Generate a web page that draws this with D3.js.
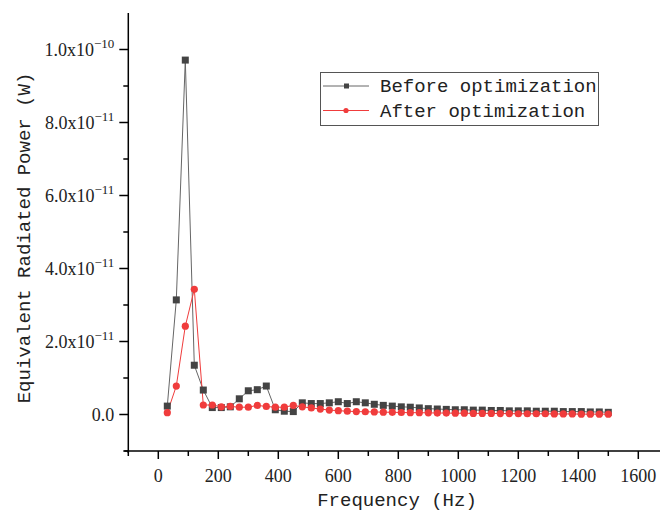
<!DOCTYPE html>
<html>
<head>
<meta charset="utf-8">
<script src="https://cdn.jsdelivr.net/npm/d3@7"></script>
<style>
  html, body { margin: 0; padding: 0; background: #fff; }
  svg { display: block; }
</style>
</head>
<body>
<svg id="chart"></svg>
<script>
// frequencies 30..1500 Hz, values in pW (x 1e-12 W)
const freq = [30,60,90,120,150,180,210,240,270,300,330,360,390,420,450,480,510,540,570,600,
  630,660,690,720,750,780,810,840,870,900,930,960,990,1020,1050,1080,1110,1140,1170,1200,
  1230,1260,1290,1320,1350,1380,1410,1440,1470,1500];
const beforeOpt = [2.3,31.4,97.1,13.5,6.7,1.9,1.9,2.1,4.3,6.5,6.8,7.8,1.3,0.9,0.8,3.2,3.0,3.0,3.2,3.5,
  3.0,3.5,3.2,2.8,2.5,2.3,2.1,2.0,1.8,1.6,1.5,1.4,1.3,1.3,1.2,1.2,1.1,1.1,1.0,1.0,
  1.0,0.9,0.9,0.9,0.8,0.8,0.8,0.7,0.7,0.6];
const afterOpt = [0.5,7.8,24.2,34.3,2.6,2.6,2.1,2.2,2.0,2.0,2.5,2.2,2.0,2.0,2.5,2.1,1.8,1.5,1.2,1.05,
  0.9,0.8,0.75,0.7,0.65,0.6,0.55,0.5,0.5,0.45,0.4,0.4,0.35,0.35,0.3,0.3,0.3,0.25,0.25,0.2,
  0.2,0.2,0.2,0.15,0.15,0.15,0.1,0.1,0.1,0.1];
const xTicks = [0,200,400,600,800,1000,1200,1400,1600];
const yTicks = [0, 2e-11, 4e-11, 6e-11, 8e-11, 1e-10];
const seriesNames = ["Before optimization", "After optimization"];

const width = 660, height = 513;
const svg = d3.select('#chart').attr('width', width).attr('height', height);

const x = d3.scaleLinear().domain([-100, 1700]).range([128.3, 668.3]);
const y = d3.scaleLinear().domain([-1e-11, 1.1e-10]).range([451, 13]);

const serif = "'Liberation Serif', 'Times New Roman', serif";
const mono = "'Liberation Mono', 'Courier New', monospace";

// x axis
const xAxis = svg.append('g').attr('transform', 'translate(0,' + y(-1e-11) + ')');
xAxis.append('line').attr('x1', x(-100) - 4).attr('x2', width).attr('stroke', '#000').attr('stroke-width', 1.5);
xAxis.selectAll('.minor').data(d3.range(-100, 1701, 200)).join('line')
  .attr('x1', d => x(d)).attr('x2', d => x(d)).attr('y1', 0).attr('y2', 5)
  .attr('stroke', '#000').attr('stroke-width', 1.5);
xAxis.selectAll('.major').data(xTicks).join('line')
  .attr('x1', d => x(d)).attr('x2', d => x(d)).attr('y1', 0).attr('y2', 8)
  .attr('stroke', '#000').attr('stroke-width', 1.5);
xAxis.selectAll('text').data(xTicks).join('text')
  .attr('x', d => x(d)).attr('y', 31).attr('text-anchor', 'middle')
  .style('font-family', serif).style('font-size', '18px').attr('fill', '#222')
  .text(d => d);

// y axis
const yAxis = svg.append('g').attr('transform', 'translate(' + x(-100) + ',0)');
yAxis.append('line').attr('y1', y(1.1e-10)).attr('y2', y(-1e-11) + 2).attr('stroke', '#000').attr('stroke-width', 1.5);
yAxis.selectAll('.minor').data(d3.range(-1, 11, 2).map(d => d * 1e-11)).join('line')
  .attr('y1', d => y(d)).attr('y2', d => y(d)).attr('x1', 0).attr('x2', -5)
  .attr('stroke', '#000').attr('stroke-width', 1.5);
yAxis.selectAll('.major').data(yTicks).join('line')
  .attr('y1', d => y(d)).attr('y2', d => y(d)).attr('x1', 0).attr('x2', -9)
  .attr('stroke', '#000').attr('stroke-width', 1.5);

const yLab = yAxis.selectAll('text').data(yTicks).join('text')
  .attr('x', -14).attr('y', d => y(d) + 6).attr('text-anchor', 'end')
  .style('font-family', serif).style('font-size', '18px').attr('fill', '#222');
yLab.each(function (d) {
  const t = d3.select(this);
  if (d === 0) { t.text('0.0'); return; }
  const e = Math.floor(Math.log10(d) + 1e-9);
  const m = d / Math.pow(10, e);
  t.append('tspan').text(m.toFixed(1) + 'x10');
  t.append('tspan').attr('dy', -8).style('font-size', '13px').text('\u2212' + (-e));
});

// axis titles
svg.append('text').attr('x', 397).attr('y', 506).attr('text-anchor', 'middle')
  .style('font-family', mono).style('font-size', '19px').attr('fill', '#222')
  .text('Frequency (Hz)');
svg.append('text').attr('transform', 'translate(30,238) rotate(-90)').attr('text-anchor', 'middle')
  .style('font-family', mono).style('font-size', '19px').attr('fill', '#222')
  .text('Equivalent Radiated Power (W)');

// series
const toW = v => v * 1e-12;
const line = d3.line().x((d, i) => x(freq[i])).y(d => y(toW(d)));

svg.append('path').datum(beforeOpt).attr('d', line)
  .attr('fill', 'none').attr('stroke', '#666').attr('stroke-width', 1);
svg.append('path').datum(afterOpt).attr('d', line)
  .attr('fill', 'none').attr('stroke', '#f03c3c').attr('stroke-width', 1);

svg.append('g').selectAll('rect').data(beforeOpt).join('rect')
  .attr('x', (d, i) => x(freq[i]) - 3.5).attr('y', d => y(toW(d)) - 3.5)
  .attr('width', 7).attr('height', 7).attr('fill', '#444');
svg.append('g').selectAll('circle').data(afterOpt).join('circle')
  .attr('cx', (d, i) => x(freq[i])).attr('cy', d => y(toW(d)))
  .attr('r', 3.6).attr('fill', '#f03c3c');

// legend
const legend = svg.append('g');
legend.append('rect').attr('x', 320.5).attr('y', 72.5).attr('width', 278).attr('height', 53)
  .attr('fill', '#fff').attr('stroke', '#555').attr('stroke-width', 1);
const rows = [
  { name: seriesNames[0], color: '#666', mark: '#444', sq: true },
  { name: seriesNames[1], color: '#f03c3c', mark: '#f03c3c', sq: false }
];
rows.forEach((r, i) => {
  const cy = 86 + i * 24.5;
  legend.append('line').attr('x1', 323).attr('x2', 369).attr('y1', cy).attr('y2', cy)
    .attr('stroke', r.color).attr('stroke-width', 1);
  if (r.sq) legend.append('rect').attr('x', 344).attr('y', cy - 2.5).attr('width', 5).attr('height', 5).attr('fill', r.mark);
  else legend.append('circle').attr('cx', 346).attr('cy', cy).attr('r', 2.6).attr('fill', r.mark);
  legend.append('text').attr('x', 380).attr('y', cy + 6).style('font-family', mono).style('font-size', '19px')
    .attr('fill', '#222').text(r.name);
});
</script>
</body>
</html>
